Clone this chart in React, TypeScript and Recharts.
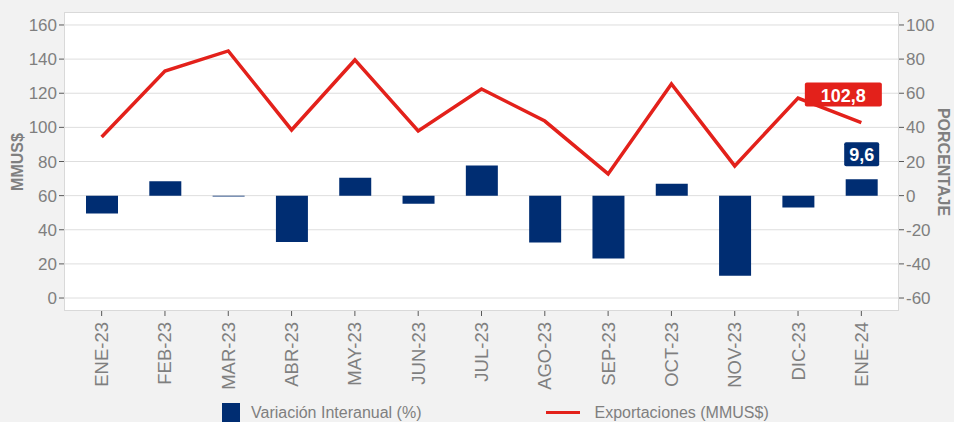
import {
  ComposedChart,
  Bar,
  Line,
  XAxis,
  YAxis,
  CartesianGrid,
  LabelList,
} from "recharts";

const meses = [
  "ENE-23", "FEB-23", "MAR-23", "ABR-23", "MAY-23", "JUN-23", "JUL-23",
  "AGO-23", "SEP-23", "OCT-23", "NOV-23", "DIC-23", "ENE-24",
];
const exportaciones = [94.4, 133, 144.8, 98.5, 139.5, 97.9, 122.5, 103.7, 72.7, 125.4, 77.4, 117.2, 102.8];
const variacion = [-10.4, 8.4, -0.5, -27.2, 10.5, -4.7, 17.6, -27.5, -36.9, 7, -46.9, -7, 9.6];
const ticksMmus = [0, 20, 40, 60, 80, 100, 120, 140, 160];
const ticksPct = [-60, -40, -20, 0, 20, 40, 60, 80, 100];

const data = meses.map((mes, i) => ({
  mes,
  exportaciones: exportaciones[i],
  variacion: variacion[i],
}));

const FONT = "'Liberation Sans', Arial, sans-serif";
const GRAY = "#7f7f7f";
const RED = "#e3211b";
const BLUE = "#002d72";
const LAST = meses.length - 1;

const fmt = (v: number) => v.toFixed(1).replace(".", ",");

function MesTick(props: any) {
  const { x, y, payload } = props;
  return (
    <text
      transform={`translate(${x},${y + 4}) rotate(-90)`}
      textAnchor="end"
      dominantBaseline="central"
      fill={GRAY}
      fontSize={18.5}
      fontFamily={FONT}
    >
      {payload.value}
    </text>
  );
}

function tag(color: string, dx: number, dy: number, w: number) {
  return (props: any) => {
    const { x, y, width, index, value } = props;
    if (index !== LAST) return null;
    const cx = x + (width ? width / 2 : 0) + dx;
    const cy = y + dy;
    return (
      <g>
        <rect x={cx - w / 2} y={cy - 12} width={w} height={24} rx={2} fill={color} />
        <text
          x={cx}
          y={cy + 1}
          textAnchor="middle"
          dominantBaseline="central"
          fill="#fff"
          fontWeight="bold"
          fontSize={18}
          fontFamily={FONT}
        >
          {fmt(value)}
        </text>
      </g>
    );
  };
}

export default function App() {
  return (
    <div
      style={{
        position: "absolute",
        left: 0,
        top: 0,
        width: 954,
        height: 422,
        background: "#f2f2f2",
        fontFamily: FONT,
        overflow: "hidden",
      }}
    >
      <ComposedChart
        width={954}
        height={422}
        data={data}
        margin={{ top: 12, right: 0, bottom: 0, left: 0 }}
      >
        <CartesianGrid
          yAxisId="left"
          vertical={false}
          stroke="#dedede"
          fill="#ffffff"
          horizontalValues={ticksMmus}
        />
        <XAxis
          dataKey="mes"
          height={111}
          interval={0}
          padding={{ left: 6, right: 6 }}
          axisLine={false}
          tickLine={{ stroke: "#595959" }}
          tickSize={5}
          tick={<MesTick />}
        />
        <YAxis
          yAxisId="left"
          width={64}
          domain={[-7.6, 167.6]}
          ticks={ticksMmus}
          allowDataOverflow
          axisLine={false}
          tickLine={{ stroke: "#595959" }}
          tickSize={5}
          tick={{ fill: GRAY, fontSize: 17, fontFamily: FONT }}
        />
        <YAxis
          yAxisId="right"
          orientation="right"
          width={55}
          domain={[-67.6, 107.6]}
          ticks={ticksPct}
          allowDataOverflow
          axisLine={false}
          tickLine={{ stroke: "#595959" }}
          tickSize={5}
          tick={{ fill: GRAY, fontSize: 17, fontFamily: FONT, textAnchor: "start" }}
        />
        <Bar
          yAxisId="right"
          dataKey="variacion"
          fill={BLUE}
          barSize={32}
          isAnimationActive={false}
        >
          <LabelList dataKey="variacion" content={tag(BLUE, 0, -25, 35)} />
        </Bar>
        <Line
          yAxisId="left"
          dataKey="exportaciones"
          stroke={RED}
          strokeWidth={3.5}
          dot={false}
          type="linear"
          isAnimationActive={false}
        >
          <LabelList dataKey="exportaciones" content={tag(RED, -18, -28, 77)} />
        </Line>
      </ComposedChart>

      <div
        style={{
          position: "absolute",
          left: 64,
          top: 12,
          width: 835,
          height: 299,
          border: "1px solid #d9d9d9",
          boxSizing: "border-box",
          pointerEvents: "none",
        }}
      />

      <div
        style={{
          position: "absolute",
          left: 18,
          top: 162,
          transform: "translate(-50%, -50%) rotate(-90deg)",
          color: GRAY,
          fontWeight: "bold",
          fontSize: 16,
          whiteSpace: "nowrap",
        }}
      >
        MMUS$
      </div>
      <div
        style={{
          position: "absolute",
          left: 943,
          top: 162,
          transform: "translate(-50%, -50%) rotate(90deg)",
          color: GRAY,
          fontWeight: "bold",
          fontSize: 16,
          whiteSpace: "nowrap",
        }}
      >
        PORCENTAJE
      </div>

      <div
        style={{
          position: "absolute",
          left: 222,
          top: 403,
          display: "flex",
          alignItems: "center",
          color: GRAY,
          fontSize: 16,
          whiteSpace: "nowrap",
        }}
      >
        <span style={{ width: 18, height: 19, background: BLUE, marginRight: 11 }} />
        <span>Variación Interanual (%)</span>
        <span style={{ width: 34, height: 3.5, background: RED, marginLeft: 125, marginRight: 14 }} />
        <span>Exportaciones (MMUS$)</span>
      </div>
    </div>
  );
}
